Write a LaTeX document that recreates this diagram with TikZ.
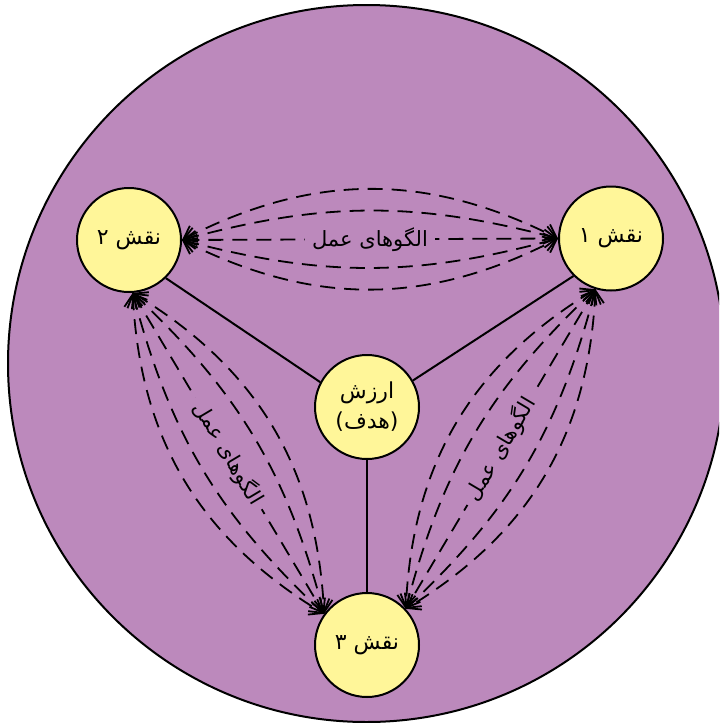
\documentclass[tikz,border=0pt]{standalone}
\usepackage{fontspec}
\TeXXeTstate=1
\newfontfamily\persian[Script=Arabic]{DejaVu Sans}
\usetikzlibrary{arrows.meta}
\definecolor{bgpurple}{RGB}{188,137,188}
\definecolor{roleyellow}{RGB}{255,246,153}
\tikzset{
  barb/.tip={Straight Barb[length=6pt,width=9pt,line width=0.9pt]},
}
\begin{document}
\begin{tikzpicture}[x=0.5pt,y=-0.5pt,
    role/.style={circle,draw,line width=1pt,fill=roleyellow,minimum size=52pt,inner sep=0pt,
      font=\persian\fontsize{11}{15}\selectfont},
    link/.style={line width=1pt},
    actline/.style={line width=0.9pt,dash pattern=on 7.5pt off 4.5pt,barb-barb},
    actlabel/.style={fill=bgpurple,inner sep=3.5pt,font=\persian\fontsize{10.5}{12}\selectfont}]
  \useasboundingbox (0,0) rectangle (719,723);
  \clip (0,0) rectangle (719,723);
  \draw[line width=1pt,fill=bgpurple] (366.5,363.5) circle (179.25pt);

  \node[role] (n2) at (129,240) {\beginR نقش ۲\endR};
  \node[role] (n1) at (611,238.5) {\beginR نقش ۱\endR};
  \node[role,align=center] (val) at (367,407) {\beginR ارزش\endR\\\beginR (هدف)\endR};
  \node[role] (n3) at (367,645) {\beginR نقش ۳\endR};

  \draw[link] (val.152) -- (n2.-46);
  \draw[link] (val.30) -- (n1.-135);
  \draw[link] (val.south) -- (n3.north);

  % n2 <-> n1
  \foreach \b in {-27,-15,15,27}
    \draw[actline] (n2.east) to[bend left=\b] (n1.west);
  \draw[actline] (n2.east) -- (n1.west)
    node[actlabel,midway] {\beginR الگوهای عمل\endR};

  % n2 <-> n3
  \foreach \b in {-28,-16,16,28}
    \draw[actline] (n2.-86) to[bend left=\b] (n3.144);
  \draw[actline] (n2.-86) -- (n3.144)
    node[actlabel,midway,sloped] {\beginR الگوهای عمل\endR};

  % n1 <-> n3
  \foreach \b in {-28,-16,16,28}
    \draw[actline] (n1.-107) to[bend left=\b] (n3.43);
  \draw[actline] (n1.-107) -- (n3.43)
    node[actlabel,midway,sloped] {\beginR الگوهای عمل\endR};
\end{tikzpicture}
\end{document}
